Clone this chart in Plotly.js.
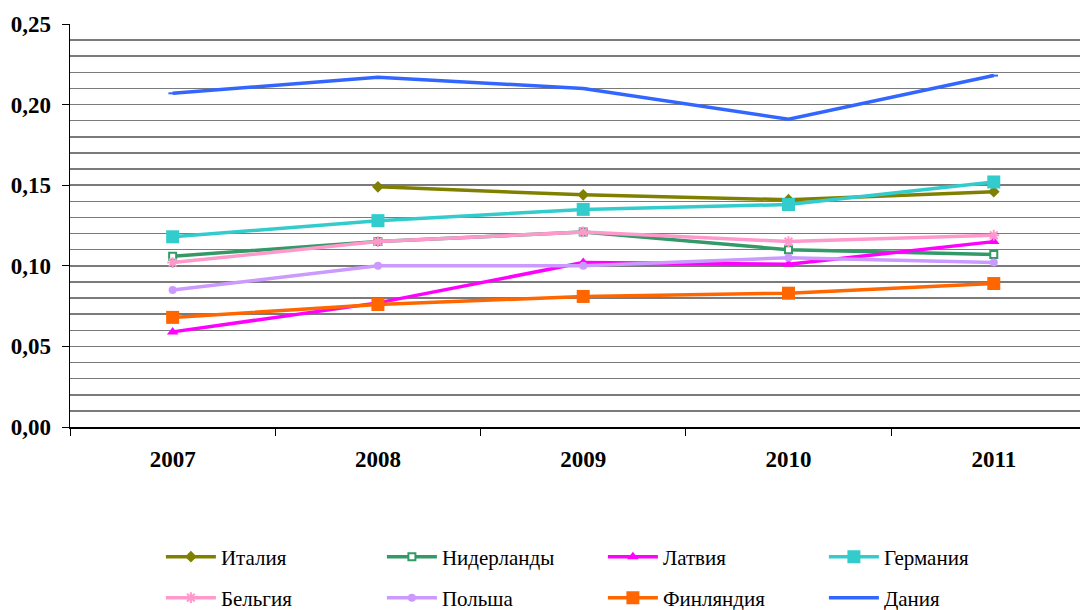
<!DOCTYPE html>
<html><head><meta charset="utf-8">
<script src="https://cdn.plot.ly/plotly-3.0.1.min.js"></script>
<style>html,body{margin:0;padding:0;background:#fff}#chart{width:1082px;height:610px}</style>
</head><body><div id="chart"></div>
<script>
const years = ['2007','2008','2009','2010','2011'];
const italy = [null, 0.149, 0.144, 0.141, 0.146];
const netherlands = [0.106, 0.115, 0.121, 0.110, 0.107];
const latvia = [0.059, 0.077, 0.102, 0.101, 0.115];
const germany = [0.118, 0.128, 0.135, 0.138, 0.152];
const belgium = [0.102, 0.115, 0.121, 0.115, 0.119];
const poland = [0.085, 0.100, 0.100, 0.105, 0.102];
const finland = [0.068, 0.076, 0.081, 0.083, 0.089];
const denmark = [0.207, 0.217, 0.210, 0.191, 0.218];

const SERIF = 'Liberation Serif';

function tr(name, y, color, marker, legend) {
  return {
    type: 'scatter', mode: 'lines+markers', name: name, x: years, y: y,
    line: {color: color, width: 3.5}, connectgaps: false,
    marker: marker, legend: legend
  };
}
const data = [
  tr('Италия', italy, '#808000', {symbol:'diamond', size:9, color:'#808000'}, 'legend'),
  tr('Нидерланды', netherlands, '#339966', {symbol:'square', size:7, color:'#ffffff', line:{color:'#339966', width:2}}, 'legend'),
  tr('Латвия', latvia, '#FF00FF', {symbol:'triangle-up', size:10, color:'#FF00FF'}, 'legend'),
  tr('Германия', germany, '#33CCCC', {symbol:'square', size:13, color:'#33CCCC'}, 'legend'),
  tr('Бельгия', belgium, '#FF99CC', {symbol:'asterisk-open', size:9, color:'#FF99CC', line:{color:'#FF99CC', width:2}}, 'legend2'),
  tr('Польша', poland, '#CC99FF', {symbol:'circle', size:8, color:'#CC99FF'}, 'legend2'),
  tr('Финляндия', finland, '#FF6600', {symbol:'square', size:13, color:'#FF6600'}, 'legend2'),
  tr('Дания', denmark, '#3366FF', {symbol:'line-ew', size:6, color:'#3366FF', line:{color:'#3366FF', width:2}}, 'legend2')
];

const legendBase = {
  orientation: 'h', xanchor: 'left', yanchor: 'middle', x: 0.09,
  entrywidth: 156, entrywidthmode: 'pixels', itemwidth: 50,
  traceorder: 'normal',
  font: {family: SERIF, size: 21, color: '#000'},
  bgcolor: 'rgba(0,0,0,0)'
};

const layout = {
  width: 1082, height: 610,
  margin: {l: 70, r: 2, t: 24, b: 183, autoexpand: false},
  paper_bgcolor: '#ffffff', plot_bgcolor: '#ffffff',
  separators: ', ',
  showlegend: true,
  font: {family: SERIF, color: '#000'},
  xaxis: {
    type: 'category', range: [-0.5, 4.42],
    showline: true, linecolor: '#000', linewidth: 2,
    ticks: 'outside', ticklen: 7, tickcolor: '#000', tickwidth: 1, tickson: 'boundaries',
    ticklabelstandoff: 10,
    showgrid: false, zeroline: false,
    tickfont: {family: SERIF, size: 23, color: '#000', weight: 'bold'}
  },
  yaxis: {
    range: [0, 0.25], dtick: 0.05, tick0: 0, tickformat: '.2f',
    showline: true, linecolor: '#000', linewidth: 1.5,
    ticks: 'outside', ticklen: 7, tickcolor: '#000',
    ticklabelstandoff: 6,
    showgrid: true, gridcolor: '#7a7a7a', gridwidth: 1.5, zeroline: false,
    minor: {dtick: 0.01, showgrid: true, gridcolor: '#7a7a7a', gridwidth: 1.5},
    tickfont: {family: SERIF, size: 23, color: '#000', weight: 'bold'}
  },
  legend: Object.assign({}, legendBase, {y: (427 - 557) / 403}),
  legend2: Object.assign({}, legendBase, {y: (427 - 598) / 403})
};
Plotly.newPlot('chart', data, layout, {displayModeBar: false, staticPlot: true});
</script></body></html>
